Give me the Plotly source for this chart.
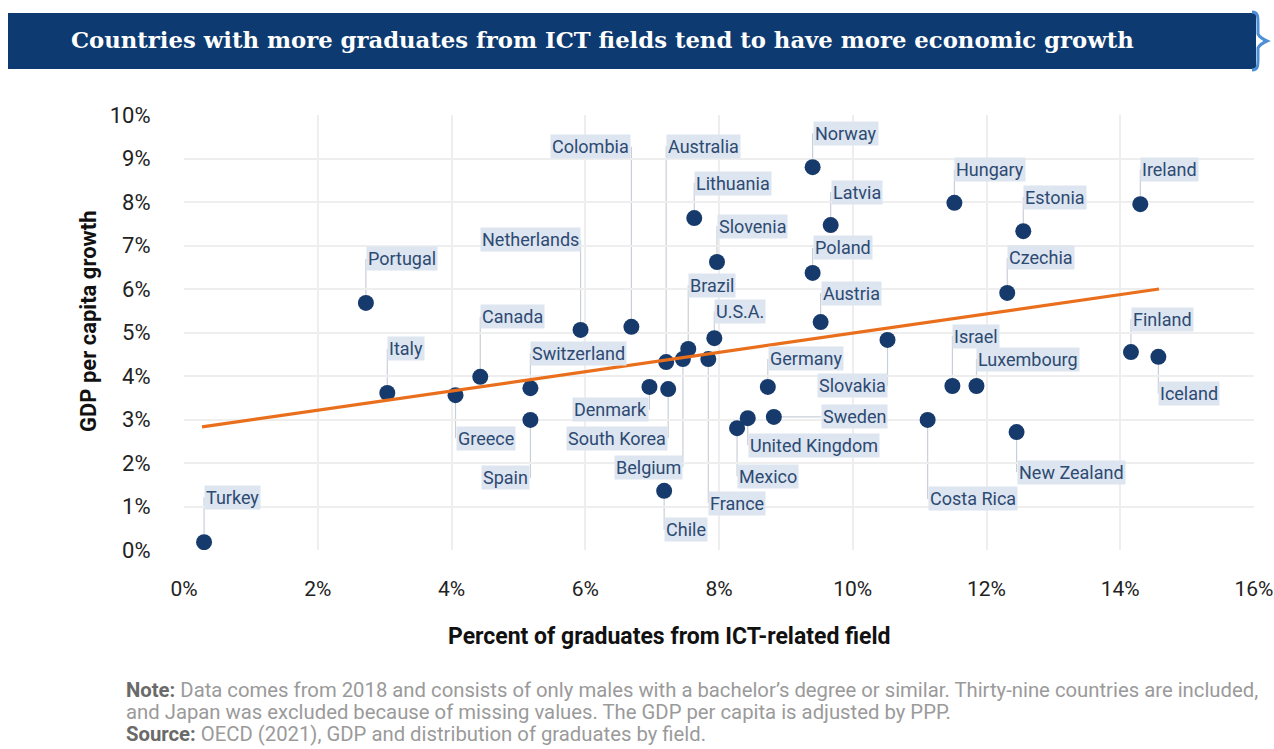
import plotly.graph_objects as go

# ---------------- data ----------------
countries = ["Turkey", "Portugal", "Italy", "Greece", "Canada", "Switzerland", "Spain",
             "Netherlands", "Colombia", "Denmark", "South Korea", "Australia", "Belgium",
             "Brazil", "U.S.A.", "France", "Chile", "Lithuania", "Slovenia", "Mexico",
             "United Kingdom", "Germany", "Sweden", "Norway", "Latvia", "Poland", "Austria",
             "Slovakia", "Costa Rica", "Israel", "Hungary", "Luxembourg", "Czechia",
             "New Zealand", "Estonia", "Finland", "Ireland", "Iceland"]
ict_share = [0.30, 2.72, 3.04, 4.06, 4.43, 5.18, 5.18,
             5.93, 6.69, 6.96, 7.24, 7.21, 7.46,
             7.54, 7.93, 7.84, 7.18, 7.63, 7.97, 8.27,
             8.43, 8.73, 8.82, 9.40, 9.67, 9.40, 9.52,
             10.52, 11.12, 11.49, 11.52, 11.85, 12.31,
             12.45, 12.55, 14.16, 14.30, 14.57]
gdp_growth = [0.18, 5.68, 3.61, 3.56, 3.98, 3.72, 2.99,
              5.06, 5.13, 3.75, 3.70, 4.32, 4.39,
              4.62, 4.87, 4.39, 1.36, 7.63, 6.62, 2.80,
              3.03, 3.75, 3.06, 8.80, 7.47, 6.37, 5.24,
              4.83, 2.99, 3.77, 7.98, 3.77, 5.91,
              2.71, 7.33, 4.55, 7.95, 4.44]
trend_x = [0.27, 14.58]
trend_y = [2.83, 6.00]
x_ticks = [0, 2, 4, 6, 8, 10, 12, 14, 16]
y_ticks = [0, 1, 2, 3, 4, 5, 6, 7, 8, 9, 10]

# label placement (pixels): vertical offset of label centre from dot (down positive),
# anchor side, horizontal shift
label_dy = {"Turkey": -45, "Portugal": -44, "Italy": -44, "Greece": 43, "Canada": -60,
            "Switzerland": -35, "Spain": 58, "Netherlands": -90, "Colombia": -180,
            "Denmark": 23, "South Korea": 49, "Australia": -216, "Belgium": 108,
            "Brazil": -64, "U.S.A.": -27, "France": 144, "Chile": 39, "Lithuania": -35,
            "Slovenia": -36, "Mexico": 48, "United Kingdom": 27, "Germany": -28,
            "Sweden": 0, "Norway": -34, "Latvia": -33, "Poland": -25, "Austria": -29,
            "Slovakia": 46, "Costa Rica": 79, "Israel": -50, "Hungary": -33,
            "Luxembourg": -27, "Czechia": -35, "New Zealand": 40, "Estonia": -34,
            "Finland": -33, "Ireland": -35, "Iceland": 37}
right_anchored = {"Spain", "Netherlands", "Colombia", "Denmark", "South Korea",
                  "Belgium", "Slovakia"}
label_dx = {"Sweden": 47}

# ---------------- layout geometry ----------------
W, H = 1274, 749
ML, MR, MT, MB = 184, 20, 115, 199
PW, PH = W - ML - MR, H - MT - MB


def px_x(p):
    return (p - ML) / PW


def px_y(p):
    return (H - MB - p) / PH


NAVY = "#173a6c"
LABEL_TXT = "#2d4a72"
LABEL_BG = "#dde5f0"
LEADER = "#c9cfd8"

fig = go.Figure()

fig.add_trace(go.Scatter(
    x=ict_share, y=gdp_growth, mode="markers", text=countries,
    marker=dict(size=16, color=NAVY, line=dict(width=0)),
    hovertemplate="%{text}: %{x}%, %{y}%<extra></extra>", showlegend=False))

fig.add_trace(go.Scatter(
    x=trend_x, y=trend_y, mode="lines",
    line=dict(color="#ea6f1c", width=3.2), hoverinfo="skip", showlegend=False))

shapes = []
annotations = []
for c, xv, yv in zip(countries, ict_share, gdp_growth):
    dy = label_dy[c]
    dx = label_dx.get(c, 0)
    right = c in right_anchored
    annotations.append(dict(
        x=xv, y=yv, xref="x", yref="y", text=c, showarrow=False,
        xanchor="right" if right else "left", yanchor="middle",
        xshift=dx, yshift=-dy,
        bgcolor=LABEL_BG, borderpad=1,
        font=dict(family="Roboto", size=18, color=LABEL_TXT)))
    shapes.append(dict(
        type="line", layer="below",
        xref="x", yref="y", xsizemode="pixel", ysizemode="pixel",
        xanchor=xv, yanchor=yv, x0=0, x1=dx, y0=0, y1=-dy,
        line=dict(color=LEADER, width=1.2)))

# title banner
shapes.append(dict(type="rect", xref="paper", yref="paper", layer="above",
                   x0=px_x(8), x1=px_x(1256), y0=px_y(69), y1=px_y(13),
                   fillcolor="#0d3a70", line=dict(width=0)))
# curly brace at the right end of the banner
bx = [1252, 1258, 1258, 1258, 1258, 1260, 1267, 1260, 1258, 1258, 1258, 1258, 1252]
by = [12, 12, 16, 24, 34, 38, 41, 44, 48, 58, 66, 70, 70]
brace_path = (f"M {px_x(bx[0])},{px_y(by[0])} "
              f"C {px_x(bx[1])},{px_y(by[1])} {px_x(bx[2])},{px_y(by[2])} {px_x(bx[3])},{px_y(by[3])} "
              f"L {px_x(bx[4])},{px_y(by[4])} "
              f"C {px_x(bx[5])},{px_y(by[5])} {px_x(bx[6])},{px_y(by[6])} {px_x(bx[6])},{px_y(by[6])} "
              f"C {px_x(bx[7])},{px_y(by[7])} {px_x(bx[8])},{px_y(by[8])} {px_x(bx[8])},{px_y(by[8])} "
              f"L {px_x(bx[9])},{px_y(by[9])} "
              f"C {px_x(bx[10])},{px_y(by[10])} {px_x(bx[11])},{px_y(by[11])} {px_x(bx[12])},{px_y(by[12])}")
shapes.append(dict(type="path", xref="paper", yref="paper", layer="above",
                   path=brace_path, line=dict(color="#4f8fd6", width=3)))
annotations.append(dict(
    xref="paper", yref="paper", x=px_x(69), y=px_y(40), xanchor="left", yanchor="middle",
    showarrow=False,
    text="<b>Countries with more graduates from ICT fields tend to have more economic growth</b>",
    font=dict(family="DejaVu Serif", size=22.75, color="white")))

# axis titles
annotations.append(dict(
    xref="paper", yref="paper", x=px_x(669), y=px_y(636), xanchor="center", yanchor="middle",
    showarrow=False, text="<b>Percent of graduates from ICT-related field</b>",
    font=dict(family="Roboto", size=23, color="#111111")))
annotations.append(dict(
    xref="paper", yref="paper", x=px_x(88), y=px_y(322), xanchor="center", yanchor="middle",
    showarrow=False, textangle=-90, text="<b>GDP per capita growth</b>",
    font=dict(family="Roboto", size=22, color="#111111")))

# footer
foot_font = dict(family="Roboto", size=20.3, color="#9a9a9a")
annotations.append(dict(
    xref="paper", yref="paper", x=px_x(124), y=px_y(690), xanchor="left", yanchor="middle",
    showarrow=False, font=foot_font,
    text="<b><span style='color:#6a6a6a'>Note:</span></b> Data comes from 2018 and consists of only "
         "males with a bachelor’s degree or similar. Thirty-nine countries are included,"))
annotations.append(dict(
    xref="paper", yref="paper", x=px_x(124), y=px_y(712), xanchor="left", yanchor="middle",
    showarrow=False, font=foot_font,
    text="and Japan was excluded because of missing values. The GDP per capita is adjusted by PPP."))
annotations.append(dict(
    xref="paper", yref="paper", x=px_x(124), y=px_y(734), xanchor="left", yanchor="middle",
    showarrow=False, font=foot_font,
    text="<b><span style='color:#6a6a6a'>Source:</span></b> OECD (2021), GDP and distribution of graduates by field."))

fig.update_layout(
    width=W, height=H,
    margin=dict(l=ML, r=MR, t=MT, b=MB, autoexpand=False),
    paper_bgcolor="white", plot_bgcolor="white",
    font=dict(family="Roboto", color="#222222"),
    shapes=shapes, annotations=annotations,
    xaxis=dict(range=[0, 16], tickvals=x_ticks, ticktext=[f"{v}%" for v in x_ticks],
               showgrid=True, gridcolor="#eeeeee", gridwidth=1.5, zeroline=False,
               showline=False, ticks="outside", ticklen=20, tickcolor="rgba(0,0,0,0)",
               ticklabeloverflow="allow",
               tickfont=dict(size=21, color="#222222")),
    yaxis=dict(range=[0, 10], tickvals=y_ticks, ticktext=[f"{v}%" for v in y_ticks],
               showgrid=True, gridcolor="#eeeeee", gridwidth=1.5, zeroline=False,
               showline=False, ticks="outside", ticklen=28, tickcolor="rgba(0,0,0,0)",
               ticklabeloverflow="allow",
               tickfont=dict(size=22, color="#222222")),
)

fig.write_html("out.html")
